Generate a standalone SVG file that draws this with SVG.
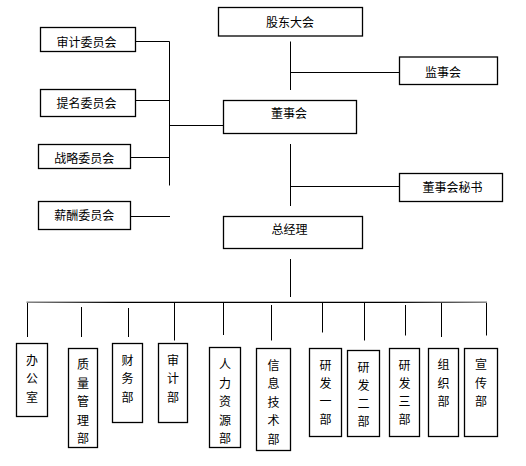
<svg xmlns="http://www.w3.org/2000/svg" width="526" height="466" viewBox="0 0 526 466">
<defs>
<style>
.box{fill:#fff;stroke:#000;stroke-width:1.3}
.ln{stroke:#000;stroke-width:1;fill:none}
text{font-family:"Noto Sans CJK SC","Liberation Sans",sans-serif;font-size:12px;fill:#000;text-anchor:middle;dominant-baseline:central}
</style>
<linearGradient id="busg" gradientUnits="userSpaceOnUse" x1="26" y1="0" x2="487" y2="0">
<stop offset="0" stop-color="#888"/>
<stop offset="0.2" stop-color="#000"/>
<stop offset="0.8" stop-color="#000"/>
<stop offset="1" stop-color="#888"/>
</linearGradient>
</defs>
<rect width="526" height="466" fill="#fff"/>
<g id="connectors">
<line class="ln" x1="290.5" y1="41.5" x2="290.5" y2="90"/>
<line class="ln" x1="290.5" y1="72.5" x2="399.5" y2="72.5"/>
<line class="ln" x1="290.5" y1="144" x2="290.5" y2="206"/>
<line class="ln" x1="290.5" y1="186.5" x2="399.5" y2="186.5"/>
<line class="ln" x1="290.5" y1="259" x2="290.5" y2="297"/>
<line class="ln" x1="169.5" y1="41.5" x2="169.5" y2="185.5"/>
<line class="ln" x1="135.5" y1="41.5" x2="169.5" y2="41.5"/>
<line class="ln" x1="135.5" y1="100.5" x2="169.5" y2="100.5"/>
<line class="ln" x1="130.5" y1="157.5" x2="169.5" y2="157.5"/>
<line class="ln" x1="130.5" y1="216.5" x2="170" y2="216.5"/>
<line class="ln" x1="169.5" y1="125.5" x2="223.5" y2="125.5"/>
<line x1="26.5" y1="301.5" x2="487" y2="301.5" stroke="#bbb" stroke-width="1"/>
<line x1="26.5" y1="302.5" x2="487" y2="302.5" stroke="url(#busg)" stroke-width="1.2"/>
<line class="ln" x1="27.5" y1="303" x2="27.5" y2="337"/>
<line class="ln" x1="81.5" y1="307" x2="81.5" y2="337"/>
<line class="ln" x1="128.5" y1="308" x2="128.5" y2="337"/>
<line class="ln" x1="174.5" y1="303" x2="174.5" y2="340.5"/>
<line class="ln" x1="223.5" y1="303" x2="223.5" y2="335"/>
<line class="ln" x1="271.5" y1="305" x2="271.5" y2="340.5"/>
<line class="ln" x1="322.5" y1="303" x2="322.5" y2="332.5"/>
<line class="ln" x1="364.5" y1="303" x2="364.5" y2="340.5"/>
<line class="ln" x1="405.5" y1="305" x2="405.5" y2="335.5"/>
<line class="ln" x1="441.5" y1="303" x2="441.5" y2="337"/>
<line class="ln" x1="486.5" y1="303" x2="486.5" y2="335.5"/>
</g>
<g id="n-gudong"><rect class="box" x="218.5" y="7.5" width="144" height="28.5"/><text x="290" y="21.5">股东大会</text></g>
<g id="n-jianshi"><rect class="box" x="399.5" y="57" width="98" height="27.5"/><text x="443" y="71">监事会</text></g>
<g id="n-dongshi"><rect class="box" x="223.5" y="100.5" width="133" height="33"/><text x="289" y="112">董事会</text></g>
<g id="n-mishu"><rect class="box" x="399.5" y="173.5" width="103" height="28"/><text x="452.5" y="186.5">董事会秘书</text></g>
<g id="n-zongjingli"><rect class="box" x="223.5" y="216.5" width="139" height="32"/><text x="289.5" y="228.5">总经理</text></g>
<g id="n-shenji-wh"><rect class="box" x="40.5" y="27.5" width="95" height="24"/><text x="86.5" y="41">审计委员会</text></g>
<g id="n-timing"><rect class="box" x="40.5" y="89.5" width="95" height="27"/><text x="86.5" y="102">提名委员会</text></g>
<g id="n-zhanlue"><rect class="box" x="38.5" y="144.5" width="92" height="24"/><text x="84.2" y="157.5">战略委员会</text></g>
<g id="n-xinchou"><rect class="box" x="38.5" y="201.5" width="92" height="28"/><text x="84.2" y="214.5">薪酬委员会</text></g>
<g id="n-bangongshi"><rect class="box" x="16.5" y="343.5" width="31" height="73"/><text><tspan x="32" y="358.5">办</tspan><tspan x="32" y="377">公</tspan><tspan x="32" y="395.5">室</tspan></text></g>
<g id="n-zhiliang"><rect class="box" x="68.5" y="348.5" width="29" height="99"/><text><tspan x="83" y="363">质</tspan><tspan x="83" y="381.5">量</tspan><tspan x="83" y="400">管</tspan><tspan x="83" y="418.5">理</tspan><tspan x="83" y="437">部</tspan></text></g>
<g id="n-caiwu"><rect class="box" x="112.5" y="343.5" width="30" height="79"/><text><tspan x="127.5" y="358.5">财</tspan><tspan x="127.5" y="377">务</tspan><tspan x="127.5" y="395.5">部</tspan></text></g>
<g id="n-shenjibu"><rect class="box" x="158.5" y="343.5" width="29" height="79"/><text><tspan x="173" y="358.5">审</tspan><tspan x="173" y="377">计</tspan><tspan x="173" y="395.5">部</tspan></text></g>
<g id="n-renli"><rect class="box" x="209.5" y="347.5" width="31" height="100"/><text><tspan x="225" y="363">人</tspan><tspan x="225" y="381.5">力</tspan><tspan x="225" y="400">资</tspan><tspan x="225" y="418.5">源</tspan><tspan x="225" y="437">部</tspan></text></g>
<g id="n-xinxi"><rect class="box" x="256.5" y="348.5" width="34" height="102"/><text><tspan x="273.5" y="363.5">信</tspan><tspan x="273.5" y="382">息</tspan><tspan x="273.5" y="400.5">技</tspan><tspan x="273.5" y="419">术</tspan><tspan x="273.5" y="437.5">部</tspan></text></g>
<g id="n-yanfa1"><rect class="box" x="309.5" y="348.5" width="32" height="88"/><text><tspan x="325.5" y="364">研</tspan><tspan x="325.5" y="382">发</tspan><tspan x="325.5" y="400">一</tspan><tspan x="325.5" y="418">部</tspan></text></g>
<g id="n-yanfa2"><rect class="box" x="347.5" y="350.5" width="32" height="86"/><text><tspan x="363.5" y="366">研</tspan><tspan x="363.5" y="384">发</tspan><tspan x="363.5" y="402">二</tspan><tspan x="363.5" y="420">部</tspan></text></g>
<g id="n-yanfa3"><rect class="box" x="389.5" y="348.5" width="30" height="88"/><text><tspan x="404.5" y="364">研</tspan><tspan x="404.5" y="382">发</tspan><tspan x="404.5" y="400">三</tspan><tspan x="404.5" y="418">部</tspan></text></g>
<g id="n-zuzhi"><rect class="box" x="428.5" y="348.5" width="30" height="88"/><text><tspan x="443.5" y="363">组</tspan><tspan x="443.5" y="381.5">织</tspan><tspan x="443.5" y="400">部</tspan></text></g>
<g id="n-xuanchuan"><rect class="box" x="464.5" y="348.5" width="33" height="88"/><text><tspan x="481" y="363">宣</tspan><tspan x="481" y="381.5">传</tspan><tspan x="481" y="400">部</tspan></text></g>
</svg>
